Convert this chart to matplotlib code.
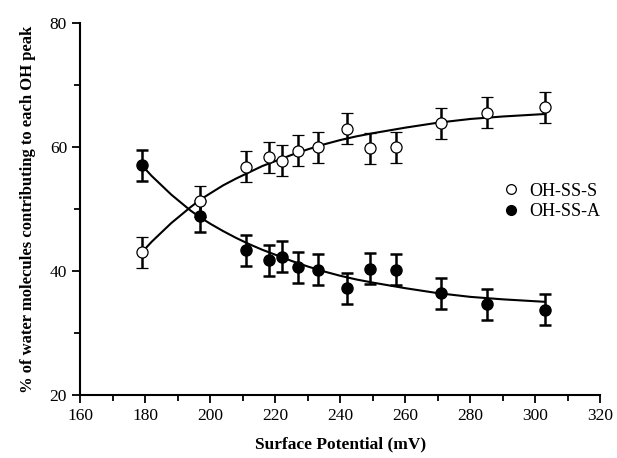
import matplotlib
matplotlib.use('Agg')
import matplotlib.pyplot as plt
import matplotlib.ticker as ticker

# Surface potential (mV) for each measurement
potential = [179, 197, 211, 218, 222, 227, 233, 242, 249, 257, 271, 285, 303]

# % of water molecules in each OH peak
oh_ss_s = [43.0, 51.2, 56.8, 58.3, 57.8, 59.4, 59.9, 62.9, 59.8, 59.9, 63.8, 65.5, 66.4]
oh_ss_a = [57.0, 48.8, 43.3, 41.7, 42.3, 40.6, 40.2, 37.2, 40.3, 40.2, 36.4, 34.6, 33.7]
err_s = [2.5, 2.5, 2.5, 2.5, 2.5, 2.5, 2.5, 2.5, 2.5, 2.5, 2.5, 2.5, 2.5]
err_a = [2.5, 2.5, 2.5, 2.5, 2.5, 2.5, 2.5, 2.5, 2.5, 2.5, 2.5, 2.5, 2.5]

# Fitted curves
fit_x = [179, 182, 185, 188, 191, 194, 197, 200, 204, 208, 212, 216, 220, 225, 230, 235,
         240, 245, 250, 260, 270, 280, 290, 303]
fit_s = [43.0, 44.7, 46.2, 47.7, 49.0, 50.3, 51.5, 52.5, 53.8, 54.9, 55.9, 56.9, 57.7,
         58.7, 59.6, 60.4, 61.1, 61.7, 62.2, 63.1, 63.9, 64.5, 64.9, 65.3]
fit_a = [57.0, 55.3, 53.8, 52.3, 51.0, 49.7, 48.6, 47.6, 46.4, 45.3, 44.3, 43.4, 42.6,
         41.6, 40.7, 39.9, 39.2, 38.6, 38.1, 37.2, 36.4, 35.8, 35.4, 35.0]

plt.rcParams['font.family'] = ['Liberation Serif', 'DejaVu Serif']

fig = plt.figure(figsize=(6.17, 4.58), dpi=100)
ax = fig.add_axes([0.130, 0.138, 0.843, 0.812])

# fitted lines
ax.plot(fit_x, fit_s, color='black', linewidth=1.5, zorder=2)
ax.plot(fit_x, fit_a, color='black', linewidth=1.5, zorder=2)

# data with error bars
ax.errorbar(potential, oh_ss_s, yerr=err_s, fmt='o', markersize=8,
            markerfacecolor='white', markeredgecolor='black', markeredgewidth=0.9,
            ecolor='black', elinewidth=1.8, capsize=4, capthick=1.8,
            label='OH-SS-S', zorder=3)
ax.errorbar(potential, oh_ss_a, yerr=err_a, fmt='o', markersize=8,
            markerfacecolor='black', markeredgecolor='black',
            ecolor='black', elinewidth=1.8, capsize=4, capthick=1.8,
            label='OH-SS-A', zorder=3)

ax.set_xlim(160, 320)
ax.set_ylim(20, 80)
ax.xaxis.set_major_locator(ticker.MultipleLocator(20))
ax.xaxis.set_minor_locator(ticker.MultipleLocator(10))
ax.yaxis.set_major_locator(ticker.MultipleLocator(20))
ax.yaxis.set_minor_locator(ticker.MultipleLocator(10))
ax.tick_params(which='major', direction='out', length=6, width=1.3, labelsize=12.5)
ax.tick_params(which='minor', direction='out', length=4, width=1.3)

ax.spines['top'].set_visible(False)
ax.spines['right'].set_visible(False)
ax.spines['left'].set_linewidth(1.5)
ax.spines['bottom'].set_linewidth(1.5)

ax.set_xlabel('Surface Potential (mV)', fontsize=12.5, fontweight='bold', labelpad=9)
ax.set_ylabel('% of water molecules contributing to each OH peak', fontsize=12,
              fontweight='bold', labelpad=10)

# legend without error bar glyphs
handles = [plt.Line2D([], [], linestyle='none', marker='o', markersize=7,
                      markerfacecolor='white', markeredgecolor='black', markeredgewidth=0.9),
           plt.Line2D([], [], linestyle='none', marker='o', markersize=7,
                      markerfacecolor='black', markeredgecolor='black')]
ax.legend(handles, ['OH-SS-S', 'OH-SS-A'], loc='center left',
          bbox_to_anchor=(0.78, 0.52), frameon=False, fontsize=13,
          handletextpad=0.5, labelspacing=0.2, handlelength=1.0)

fig.savefig('out.png', dpi=100)
